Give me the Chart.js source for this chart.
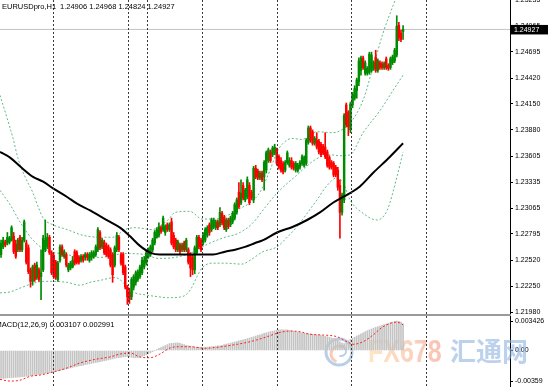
<!DOCTYPE html>
<html><head><meta charset="utf-8">
<script src="https://cdn.jsdelivr.net/npm/chart.js@4.4.1/dist/chart.umd.min.js"></script>
<style>
html,body{margin:0;padding:0;background:#fff;width:548px;height:387px;overflow:hidden;}
#wrap{position:relative;width:548px;height:387px;}
#main{position:absolute;left:0;top:0;}
#macd{position:absolute;left:0;top:316px;}
#sep{position:absolute;left:0;top:314px;width:511px;height:2px;background:#9a9a9a;}
</style></head><body>
<div id="wrap">
<canvas id="main" width="548" height="316"></canvas>
<div id="sep"></div>
<canvas id="macd" width="548" height="71"></canvas>
</div>
<script>
// ---------- DATA ----------
const headerSymbol = 'EURUSDpro,H1';
const headerValues = '1.24906 1.24968 1.24824 1.24927';
const macdTitle = 'MACD(12,26,9) 0.003107 0.002991';
const lastPrice = 1.24927;

const opens = [
1.2258,1.2266,1.2271,1.2270,1.2271,1.2273,1.2277,1.2269,1.2263,1.2276,1.2263,1.2273,
1.2270,1.2265,1.2242,1.2230,1.2247,1.2234,1.2242,1.2235,1.2242,1.2263,1.2266,1.2276,
1.2260,1.2257,1.2250,1.2232,1.2252,1.2266,1.2256,1.2258,1.2242,1.2244,1.2245,1.2261,
1.2260,1.2255,1.2252,1.2256,1.2255,1.2258,1.2252,1.2255,1.2256,1.2258,1.2263,1.2281,
1.2266,1.2271,1.2268,1.2266,1.2263,1.2258,1.2247,1.2263,1.2276,1.2258,1.2258,1.2245,
1.2224,1.2219,1.2214,1.2224,1.2229,1.2232,1.2235,1.2239,1.2245,1.2249,1.2256,1.2258,
1.2263,1.2270,1.2276,1.2278,1.2286,1.2284,1.2281,1.2289,1.2284,1.2292,1.2278,1.2273,
1.2263,1.2268,1.2263,1.2270,1.2263,1.2263,1.2258,1.2255,1.2242,1.2260,1.2276,1.2273,
1.2270,1.2273,1.2278,1.2289,1.2284,1.2287,1.2286,1.2292,1.2289,1.2301,1.2297,1.2284,
1.2294,1.2289,1.2292,1.2296,1.2302,1.2323,1.2312,1.2330,1.2315,1.2318,1.2330,1.2323,
1.2315,1.2348,1.2345,1.2338,1.2343,1.2339,1.2346,1.2356,1.2365,1.2362,1.2364,1.2367,
1.2360,1.2356,1.2353,1.2346,1.2354,1.2351,1.2356,1.2353,1.2346,1.2346,1.2349,1.2353,
1.2351,1.2353,1.2375,1.2390,1.2386,1.2374,1.2377,1.2376,1.2373,1.2371,1.2370,1.2365,
1.2359,1.2354,1.2353,1.2349,1.2346,1.2330,1.2302,1.2315,1.2414,1.2406,1.2388,1.2414,
1.2421,1.2429,1.2438,1.2450,1.2463,1.2447,1.2447,1.2448,1.2450,1.2452,1.2464,1.2450,
1.2458,1.2457,1.2453,1.2462,1.2455,1.2453,1.2458,1.2460,1.2466,1.2497,1.2489,1.24906];

const highs = [
1.2273,1.2276,1.2273,1.2281,1.2277,1.2288,1.2281,1.2273,1.2275,1.2278,1.2276,1.2294,
1.2273,1.2268,1.2244,1.2247,1.2249,1.2250,1.2244,1.2263,1.2278,1.2294,1.2280,1.2278,
1.2262,1.2259,1.2252,1.2251,1.2268,1.2268,1.2263,1.2260,1.2249,1.2251,1.2256,1.2263,
1.2262,1.2257,1.2258,1.2258,1.2260,1.2260,1.2260,1.2262,1.2262,1.2268,1.2286,1.2283,
1.2275,1.2273,1.2270,1.2268,1.2265,1.2260,1.2267,1.2281,1.2278,1.2260,1.2260,1.2247,
1.2226,1.2223,1.2234,1.2237,1.2241,1.2242,1.2247,1.2255,1.2256,1.2262,1.2265,1.2268,
1.2275,1.2283,1.2286,1.2291,1.2288,1.2298,1.2289,1.2291,1.2291,1.2296,1.2281,1.2275,
1.2273,1.2270,1.2270,1.2272,1.2275,1.2265,1.2260,1.2258,1.2267,1.2278,1.2278,1.2275,
1.2281,1.2286,1.2288,1.2291,1.2296,1.2296,1.2294,1.2294,1.2307,1.2303,1.2299,1.2296,
1.2296,1.2298,1.2303,1.2312,1.2317,1.2333,1.2336,1.2333,1.2327,1.2339,1.2333,1.2325,
1.2350,1.2351,1.2347,1.2345,1.2345,1.2356,1.2366,1.2369,1.2367,1.2371,1.2373,1.2369,
1.2362,1.2359,1.2355,1.2356,1.2366,1.2359,1.2359,1.2355,1.2355,1.2353,1.2356,1.2362,
1.2361,1.2379,1.2392,1.2392,1.2388,1.2381,1.2385,1.2378,1.2375,1.2373,1.2385,1.2367,
1.2361,1.2356,1.2355,1.2351,1.2349,1.2336,1.2322,1.2405,1.2416,1.2408,1.2417,1.2427,
1.2434,1.2442,1.2463,1.2465,1.2465,1.2460,1.2454,1.2469,1.2469,1.2460,1.2471,1.2462,
1.2460,1.2459,1.2459,1.2464,1.2457,1.2464,1.2466,1.2473,1.2507,1.2500,1.2492,1.24968];

const lows = [
1.2255,1.2264,1.2266,1.2268,1.2269,1.2272,1.2259,1.2254,1.2261,1.2261,1.2261,1.2271,
1.2248,1.2238,1.2224,1.2226,1.2230,1.2232,1.2230,1.2211,1.2240,1.2261,1.2264,1.2258,
1.2237,1.2233,1.2232,1.2230,1.2250,1.2256,1.2254,1.2245,1.2240,1.2242,1.2244,1.2247,
1.2248,1.2248,1.2250,1.2250,1.2252,1.2252,1.2250,1.2252,1.2254,1.2256,1.2261,1.2263,
1.2264,1.2258,1.2256,1.2254,1.2245,1.2229,1.2245,1.2261,1.2261,1.2247,1.2237,1.2222,
1.2206,1.2207,1.2211,1.2221,1.2226,1.2230,1.2233,1.2237,1.2243,1.2247,1.2254,1.2256,
1.2261,1.2268,1.2275,1.2276,1.2280,1.2282,1.2278,1.2282,1.2282,1.2268,1.2264,1.2261,
1.2261,1.2259,1.2261,1.2261,1.2261,1.2248,1.2235,1.2237,1.2238,1.2258,1.2264,1.2261,
1.2268,1.2271,1.2276,1.2278,1.2282,1.2285,1.2284,1.2284,1.2287,1.2289,1.2284,1.2282,
1.2285,1.2287,1.2290,1.2294,1.2300,1.2306,1.2310,1.2315,1.2313,1.2316,1.2310,1.2315,
1.2312,1.2337,1.2336,1.2336,1.2334,1.2325,1.2343,1.2354,1.2354,1.2360,1.2362,1.2351,
1.2347,1.2344,1.2342,1.2344,1.2352,1.2349,1.2347,1.2346,1.2344,1.2344,1.2347,1.2351,
1.2349,1.2351,1.2373,1.2375,1.2372,1.2372,1.2368,1.2363,1.2360,1.2362,1.2358,1.2349,
1.2347,1.2347,1.2339,1.2339,1.2325,1.2275,1.2299,1.2312,1.2391,1.2382,1.2385,1.2411,
1.2419,1.2421,1.2434,1.2445,1.2451,1.2445,1.2445,1.2446,1.2448,1.2450,1.2448,1.2448,
1.2451,1.2451,1.2451,1.2451,1.2450,1.2451,1.2456,1.2458,1.2464,1.2481,1.2480,1.24824];

const closes = [
1.2270,1.2273,1.2268,1.2276,1.2275,1.2286,1.2261,1.2256,1.2273,1.2263,1.2273,1.2292,
1.2250,1.2240,1.2230,1.2245,1.2232,1.2247,1.2232,1.2239,1.2275,1.2273,1.2276,1.2260,
1.2239,1.2235,1.2234,1.2249,1.2266,1.2258,1.2261,1.2247,1.2247,1.2249,1.2252,1.2249,
1.2250,1.2250,1.2256,1.2252,1.2258,1.2255,1.2258,1.2260,1.2260,1.2266,1.2284,1.2265,
1.2273,1.2260,1.2258,1.2256,1.2247,1.2237,1.2265,1.2278,1.2263,1.2249,1.2239,1.2224,
1.2214,1.2211,1.2232,1.2235,1.2239,1.2240,1.2245,1.2252,1.2252,1.2260,1.2263,1.2266,
1.2273,1.2281,1.2284,1.2287,1.2282,1.2296,1.2287,1.2284,1.2289,1.2270,1.2266,1.2263,
1.2271,1.2261,1.2268,1.2263,1.2273,1.2250,1.2244,1.2242,1.2265,1.2276,1.2266,1.2263,
1.2278,1.2284,1.2286,1.2281,1.2294,1.2294,1.2292,1.2286,1.2302,1.2291,1.2286,1.2294,
1.2287,1.2296,1.2301,1.2310,1.2315,1.2308,1.2322,1.2317,1.2325,1.2336,1.2312,1.2317,
1.2348,1.2339,1.2338,1.2343,1.2336,1.2354,1.2364,1.2367,1.2356,1.2369,1.2370,1.2353,
1.2349,1.2346,1.2344,1.2354,1.2364,1.2356,1.2349,1.2348,1.2353,1.2351,1.2354,1.2360,
1.2359,1.2377,1.2390,1.2377,1.2374,1.2379,1.2370,1.2365,1.2362,1.2364,1.2360,1.2351,
1.2349,1.2349,1.2341,1.2341,1.2328,1.2302,1.2320,1.2403,1.2393,1.2391,1.2415,1.2425,
1.2431,1.2440,1.2460,1.2463,1.2453,1.2458,1.2452,1.2467,1.2466,1.2458,1.2450,1.2460,
1.2453,1.2453,1.2457,1.2453,1.2452,1.2462,1.2464,1.2471,1.2496,1.2484,1.2482,1.24927];

// indicator lines: [bar index, value]
const maLine = [[-0.5,1.2365],[4.3,1.2359],[9.0,1.2350],[15.2,1.2339],[20.0,1.2334],[24.7,1.2327],
[31.4,1.2318],[36.1,1.2311],[42.3,1.2304],[47.0,1.2298],[51.8,1.2292],[56.5,1.2286],[61.3,1.2277],
[66.0,1.2267],[70.8,1.2260],[75.5,1.2258],[85.0,1.2258],[94.5,1.2258],[100.7,1.2258],[106.4,1.2261],
[111.2,1.2263],[115.9,1.2266],[120.7,1.2270],[124.5,1.2273],[131.1,1.2281],[138.7,1.2287],
[145.4,1.2294],[151.5,1.2302],[157.7,1.2312],[162.5,1.2318],[165.8,1.2322],[170.5,1.2329],
[176.7,1.2343],[184.8,1.2360],[191.0,1.2374]];

const bbUpper = [[-0.5,1.2424],[2.9,1.2400],[5.7,1.2379],[8.1,1.2358],[11.4,1.2339],[15.2,1.2322],
[17.6,1.2308],[20.0,1.2296],[24.7,1.2289],[31.4,1.2284],[39.0,1.2278],[47.0,1.2276],[53.2,1.2276],
[58.9,1.2284],[63.7,1.2286],[71.7,1.2284],[75.5,1.2288],[79.3,1.2294],[82.7,1.2302],[89.8,1.2303],
[95.5,1.2295],[101.7,1.2295],[108.8,1.2300],[113.5,1.2306],[118.3,1.2312],[123.0,1.2323],
[127.8,1.2346],[131.1,1.2365],[134.0,1.2374],[138.2,1.2379],[143.0,1.2378],[150.1,1.2386],
[157.7,1.2385],[161.0,1.2387],[165.8,1.2395],[172.0,1.2419],[176.7,1.2453],[181.5,1.2489],
[187.2,1.2523],[191.0,1.2544]];

const bbMiddle = [[-0.5,1.2325],[4.3,1.2310],[9.0,1.2292],[15.2,1.2273],[20.9,1.2263],[28.0,1.2259],
[37.5,1.2256],[47.0,1.2255],[58.9,1.2259],[68.4,1.2258],[74.6,1.2254],[82.7,1.2255],[90.7,1.2260],
[98.3,1.2269],[106.4,1.2276],[112.6,1.2280],[119.2,1.2290],[125.4,1.2307],[131.1,1.2322],
[140.1,1.2340],[150.1,1.2358],[156.3,1.2362],[161.0,1.2361],[165.8,1.2362],[172.0,1.2385],
[180.0,1.2408],[186.2,1.2429],[191.0,1.2445]];

const bbLower = [[-0.5,1.2218],[4.3,1.2219],[9.0,1.2223],[15.2,1.2228],[20.0,1.2230],[24.7,1.2230],
[31.4,1.2229],[37.5,1.2226],[42.3,1.2229],[47.0,1.2231],[54.2,1.2234],[57.5,1.2230],[60.3,1.2223],
[63.7,1.2218],[68.4,1.2216],[74.6,1.2214],[79.3,1.2213],[86.0,1.2214],[88.8,1.2218],[90.7,1.2224],
[93.1,1.2235],[95.5,1.2244],[100.2,1.2249],[106.4,1.2249],[114.5,1.2248],[118.3,1.2252],
[124.5,1.2261],[131.1,1.2266],[135.9,1.2276],[140.6,1.2287],[145.4,1.2301],[150.1,1.2315],
[154.9,1.2330],[159.6,1.2338],[162.5,1.2333],[165.8,1.2315],[172.0,1.2301],[178.6,1.2294],
[183.4,1.2304],[188.1,1.2339],[191.0,1.2365]];

const macdMain = [
-0.00325,-0.00323,-0.00321,-0.00319,-0.00317,-0.00315,-0.00313,-0.00311,-0.00309,-0.00307,-0.00305,-0.00302,
-0.00299,-0.00296,-0.00293,-0.00290,-0.00286,-0.00282,-0.00278,-0.00274,-0.00270,-0.00266,-0.00262,-0.00258,
-0.00254,-0.00250,-0.00244,-0.00238,-0.00232,-0.00226,-0.00220,-0.00214,-0.00208,-0.00202,-0.00196,-0.00190,
-0.00185,-0.00180,-0.00175,-0.00170,-0.00165,-0.00160,-0.00155,-0.00150,-0.00145,-0.00140,-0.00135,-0.00130,
-0.00125,-0.00120,-0.00115,-0.00109,-0.00103,-0.00097,-0.00091,-0.00085,-0.00082,-0.00079,-0.00076,-0.00073,
-0.00070,-0.00075,-0.00080,-0.00085,-0.00084,-0.00082,-0.00080,-0.00070,-0.00060,-0.00050,-0.00040,-0.00027,
-0.00013,0.00000,0.00012,0.00024,0.00035,0.00046,0.00057,0.00068,0.00080,0.00083,0.00085,0.00088,
0.00090,0.00083,0.00075,0.00068,0.00060,0.00055,0.00050,0.00045,0.00040,0.00039,0.00037,0.00036,
0.00035,0.00038,0.00040,0.00043,0.00045,0.00048,0.00050,0.00053,0.00055,0.00061,0.00068,0.00074,
0.00080,0.00086,0.00093,0.00099,0.00105,0.00111,0.00118,0.00124,0.00130,0.00138,0.00145,0.00153,
0.00160,0.00168,0.00175,0.00183,0.00190,0.00198,0.00205,0.00213,0.00220,0.00225,0.00230,0.00235,
0.00240,0.00240,0.00241,0.00240,0.00240,0.00235,0.00230,0.00225,0.00220,0.00215,0.00210,0.00205,
0.00200,0.00198,0.00195,0.00193,0.00190,0.00186,0.00183,0.00179,0.00175,0.00170,0.00165,0.00160,
0.00155,0.00146,0.00138,0.00129,0.00120,0.00102,0.00085,0.00080,0.00100,0.00115,0.00130,0.00143,
0.00155,0.00168,0.00180,0.00193,0.00205,0.00218,0.00230,0.00240,0.00250,0.00260,0.00270,0.00278,
0.00285,0.00293,0.00300,0.00308,0.00315,0.00323,0.00330,0.00337,0.003426,0.00338,0.00330,0.003107];

const macdSignal = [[-0.5,-0.00335],[4.3,-0.00355],[9.0,-0.00345],[13.8,-0.00300],[18.5,-0.00285],
[24.7,-0.00250],[31.4,-0.00203],[37.5,-0.00145],[45.6,-0.00099],[51.8,-0.00075],[56.5,-0.00041],
[61.3,-0.00029],[66.0,-0.00075],[70.8,-0.00084],[75.5,-0.00041],[80.3,0.00029],[85.0,0.00044],
[89.8,0.00044],[96.9,0.00026],[102.6,0.00037],[110.2,0.00064],[118.3,0.00102],[126.4,0.00160],
[131.1,0.00200],[137.3,0.00226],[142.0,0.00218],[146.8,0.00188],[153.0,0.00180],[159.6,0.00160],
[164.4,0.00102],[167.2,0.00072],[172.0,0.00102],[176.7,0.00180],[181.5,0.00276],[188.1,0.00330],
[191.0,0.002991]];

const priceTicks = [1.25235,1.24965,1.24695,1.24420,1.24150,1.23880,1.23605,1.23335,1.23065,1.22795,1.22520,1.22250,1.21980];
const macdTicks = [0.003426, 0, -0.00359];
const macdTickLabels = ['0.003426','0.00','-0.00359'];
const separators = [24.7,60.3,69.4,95.5,131.1,166.3,201.9];

// ---------- STYLE ----------
const UP = '#008a00', DOWN = '#ff0000';
const FONT = '"Liberation Sans", Arial, sans-serif';
const X_MIN = -0.5, X_MAX = 241.8;

const pairs = arr => arr.map(p => ({x: p[0], y: p[1]}));
const candleColor = ctx => closes[ctx.dataIndex] >= opens[ctx.dataIndex] ? UP : DOWN;

function fixedAxis(w) {
  return function(scale) { scale.width = w; scale.paddingTop = 0; scale.paddingBottom = 0; };
}

const separatorPlugin = {
  id: 'separators',
  afterDatasetsDraw(chart) {
    const {ctx, chartArea, scales} = chart;
    ctx.save();
    ctx.strokeStyle = '#3a3a3a';
    ctx.lineWidth = 1;
    ctx.setLineDash([2, 2]);
    separators.forEach(s => {
      const x = Math.round(scales.x.getPixelForValue(s)) + 0.5;
      ctx.beginPath();
      ctx.moveTo(x, chartArea.top);
      ctx.lineTo(x, chartArea.bottom);
      ctx.stroke();
    });
    ctx.restore();
  }
};

const mainOverlay = {
  id: 'mainOverlay',
  afterDraw(chart) {
    const {ctx, scales, chartArea} = chart;
    ctx.save();
    ctx.font = '7.5px ' + FONT;
    ctx.fillStyle = '#000';
    ctx.textBaseline = 'alphabetic';
    ctx.fillText(headerSymbol, 2, 9);
    ctx.fillText(headerValues, 60, 9);
    // price label box
    const y = scales.y.getPixelForValue(lastPrice);
    ctx.fillStyle = '#000';
    ctx.fillRect(chartArea.right + 1, y - 4.5, 37, 9.5);
    ctx.fillStyle = '#fff';
    ctx.font = '7px ' + FONT;
    ctx.textBaseline = 'middle';
    ctx.fillText(lastPrice.toFixed(5), chartArea.right + 4, y + 0.5);
    ctx.restore();
  }
};

new Chart(document.getElementById('main'), {
  type: 'bar',
  data: {
    datasets: [
      {type: 'line', data: pairs(maLine), borderColor: '#000', borderWidth: 2, pointRadius: 0,
       cubicInterpolationMode: 'monotone', order: 0},
      {type: 'bar', data: opens.map((o, i) => ({x: i, y: [o, closes[i]]})), backgroundColor: candleColor,
       barThickness: 1.8, minBarLength: 1, grouped: false, borderWidth: 0, order: 1},
      {type: 'bar', data: highs.map((h, i) => ({x: i, y: [lows[i], h]})), backgroundColor: candleColor,
       barThickness: 1, grouped: false, borderWidth: 0, order: 2},
      {type: 'line', data: pairs(bbUpper), borderColor: 'rgba(70,175,110,0.85)', borderWidth: 1, borderDash: [2, 2],
       pointRadius: 0, cubicInterpolationMode: 'monotone', order: 3},
      {type: 'line', data: pairs(bbMiddle), borderColor: 'rgba(70,175,110,0.85)', borderWidth: 1, borderDash: [2, 2],
       pointRadius: 0, cubicInterpolationMode: 'monotone', order: 4},
      {type: 'line', data: pairs(bbLower), borderColor: 'rgba(70,175,110,0.85)', borderWidth: 1, borderDash: [2, 2],
       pointRadius: 0, cubicInterpolationMode: 'monotone', order: 5},
      {type: 'line', data: [{x: X_MIN, y: lastPrice}, {x: X_MAX, y: lastPrice}], borderColor: '#c4c4c4',
       borderWidth: 1, pointRadius: 0, order: 6}
    ]
  },
  options: {
    responsive: false, animation: false, devicePixelRatio: 1,
    layout: {padding: 0},
    plugins: {legend: {display: false}, tooltip: {enabled: false}},
    scales: {
      x: {type: 'linear', min: X_MIN, max: X_MAX, offset: false, display: false},
      y: {type: 'linear', position: 'right', min: 1.21939, max: 1.25234,
          afterBuildTicks: s => { s.ticks = priceTicks.map(v => ({value: v})); },
          afterFit: fixedAxis(38),
          grid: {display: true, drawOnChartArea: false, drawTicks: true, tickLength: 3, color: '#000'},
          border: {display: true, color: '#000', width: 1},
          ticks: {autoSkip: false, color: '#000', padding: 2, font: {size: 7, family: FONT},
                  callback: v => Number(v).toFixed(5)}}
    }
  },
  plugins: [separatorPlugin, mainOverlay]
});

const macdOverlay = {
  id: 'macdOverlay',
  beforeDatasetsDraw(chart) {
    const {ctx} = chart;
    ctx.save();
    // watermark logo ring
    ctx.globalAlpha = 0.55;
    ctx.lineWidth = 3;
    ctx.strokeStyle = '#7fa6d6';
    ctx.beginPath(); ctx.arc(339, 36, 13, 0, Math.PI * 2); ctx.stroke();
    ctx.strokeStyle = '#f2a07a';
    ctx.lineWidth = 3;
    ctx.beginPath(); ctx.arc(339, 38, 8, Math.PI * 0.6, Math.PI * 1.7); ctx.stroke();
    ctx.strokeStyle = '#7fa6d6';
    ctx.lineWidth = 2;
    ctx.beginPath(); ctx.arc(341, 35, 5, Math.PI * 1.4, Math.PI * 2.6); ctx.stroke();
    // FX678
    ctx.globalAlpha = 0.6;
    ctx.save();
    ctx.translate(368, 46);
    ctx.scale(0.78, 1);
    const g = ctx.createLinearGradient(0, 0, 94, 0);
    g.addColorStop(0, '#fcd7a0');
    g.addColorStop(1, '#f59a84');
    ctx.fillStyle = g;
    ctx.font = 'bold 32px ' + FONT;
    ctx.fillText('FX678', 0, 0);
    ctx.restore();
    ctx.fillStyle = '#8fb4df';
    ctx.font = 'bold 26px "Noto Sans CJK SC", sans-serif';
    ctx.textBaseline = 'alphabetic';
    ctx.fillText('汇通网', 450, 45);
    ctx.restore();
  },
  afterDraw(chart) {
    const {ctx} = chart;
    ctx.save();
    ctx.font = '7.5px ' + FONT;
    ctx.fillStyle = '#000';
    ctx.fillText(macdTitle, -4.5, 11);
    ctx.restore();
  }
};

new Chart(document.getElementById('macd'), {
  type: 'bar',
  data: {
    datasets: [
      {type: 'line', data: pairs(macdSignal), borderColor: '#ff2020', borderWidth: 1, borderDash: [2, 2],
       pointRadius: 0, cubicInterpolationMode: 'monotone', order: 0},
      {type: 'bar', data: macdMain.map((v, i) => ({x: i, y: v})), backgroundColor: '#c4c4c4',
       barThickness: 1, grouped: false, borderWidth: 0, order: 1}
    ]
  },
  options: {
    responsive: false, animation: false, devicePixelRatio: 1,
    layout: {padding: 0},
    plugins: {legend: {display: false}, tooltip: {enabled: false}},
    scales: {
      x: {type: 'linear', min: X_MIN, max: X_MAX, offset: false, display: false},
      y: {type: 'linear', position: 'right', min: -0.004239, max: 0.004007,
          afterBuildTicks: s => { s.ticks = macdTicks.map(v => ({value: v})); },
          afterFit: fixedAxis(38),
          grid: {display: true, drawOnChartArea: false, drawTicks: true, tickLength: 3, color: '#000'},
          border: {display: true, color: '#000', width: 1},
          ticks: {autoSkip: false, color: '#000', padding: 2, font: {size: 7, family: FONT},
                  callback: (v, i) => macdTickLabels[i]}}
    }
  },
  plugins: [separatorPlugin, macdOverlay]
});
</script>
</body></html>
